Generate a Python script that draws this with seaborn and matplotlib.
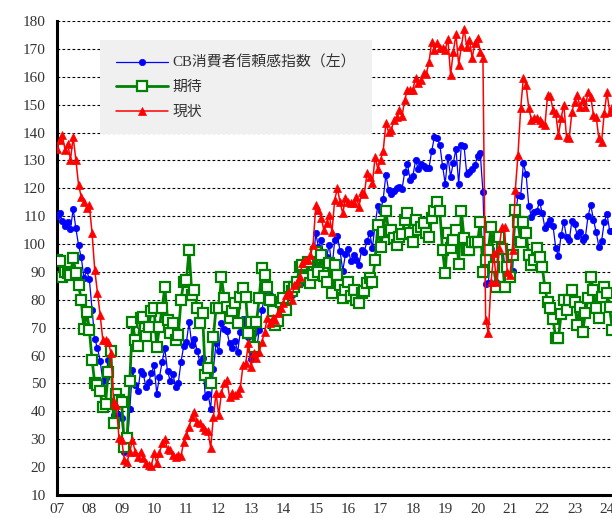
import numpy as np
import pandas as pd
import matplotlib
matplotlib.use("Agg")
import matplotlib.pyplot as plt
import seaborn as sns

# ---------------- data (monthly, Jan 2007 .. Mar 2024) ----------------
start_year = 2007
year_ticks = list(range(2007, 2025))
year_labels = [f"{y % 100:02d}" for y in year_ticks]
y_ticks = list(range(10, 181, 10))

label_cb = "CB消費者信頼感指数（左）"
label_exp = "期待"
label_pres = "現状"

cb_index = [
    110.2, 111.2, 108.2, 106.3, 108.0, 105.3, 112.6, 105.6, 99.5, 95.2, 87.8, 90.6,   # 2007
    87.3, 76.4, 65.9, 62.8, 58.1, 51.0, 51.9, 58.5, 61.4, 38.8, 44.9, 38.6,           # 2008
    37.7, 25.3, 26.9, 40.8, 54.8, 49.3, 47.4, 54.5, 53.4, 48.7, 50.6, 53.6,           # 2009
    56.5, 46.4, 52.3, 57.7, 62.7, 54.3, 51.0, 53.5, 48.6, 50.2, 57.8, 63.4,           # 2010
    64.8, 72.0, 63.8, 66.0, 61.7, 57.6, 59.2, 45.2, 46.4, 40.9, 55.2, 64.5,           # 2011
    61.5, 71.6, 69.5, 68.7, 64.4, 62.7, 65.4, 61.3, 68.4, 73.1, 71.5, 66.7,           # 2012
    58.6, 68.0, 61.9, 69.0, 76.2, 81.4, 80.3, 81.8, 80.2, 72.4, 72.0, 77.5,           # 2013
    80.7, 78.3, 83.9, 81.7, 83.0, 86.4, 90.9, 92.4, 86.0, 94.5, 88.7, 93.1,           # 2014
    103.8, 98.8, 101.4, 95.2, 95.4, 99.8, 91.0, 101.3, 103.0, 97.6, 90.4, 96.3,       # 2015
    98.1, 94.0, 96.1, 94.2, 92.6, 98.0, 97.3, 101.1, 104.1, 98.6, 107.1, 113.7,       # 2016
    111.8, 116.1, 124.9, 119.4, 117.9, 118.9, 120.0, 120.4, 119.8, 125.9, 128.6, 123.1,  # 2017
    124.3, 130.0, 127.0, 128.7, 128.0, 127.1, 127.4, 133.4, 138.4, 137.9, 135.7, 128.1,  # 2018
    121.7, 131.4, 124.2, 129.2, 134.1, 121.5, 135.7, 135.1, 125.1, 125.9, 126.8, 128.2,  # 2019
    131.6, 132.6, 118.8, 85.7, 85.9, 98.3, 91.7, 86.3, 101.8, 101.4, 92.9, 88.6,      # 2020
    89.3, 90.4, 109.7, 117.5, 117.2, 128.9, 125.1, 113.8, 109.8, 111.6, 111.9, 115.2, # 2021
    111.1, 105.7, 107.2, 108.6, 106.4, 98.7, 95.7, 103.2, 108.0, 102.5, 101.4, 108.3, # 2022
    107.1, 102.9, 104.2, 101.3, 102.5, 110.1, 114.0, 108.7, 104.3, 99.1, 101.0, 108.0, # 2023
    110.9, 104.8, 104.7,                                                               # 2024
]

expectations = [
    94.3, 93.8, 88.2, 90.0, 89.6, 88.9, 95.0, 89.6, 85.3, 80.0, 69.4, 75.8,           # 2007
    69.2, 58.4, 50.2, 49.5, 47.2, 41.5, 42.8, 54.1, 61.6, 35.8, 46.1, 44.2,           # 2008
    43.2, 27.3, 30.3, 51.0, 72.0, 65.6, 63.4, 73.6, 74.0, 67.1, 70.3, 76.1,           # 2009
    77.0, 63.0, 70.3, 77.0, 84.6, 72.8, 68.0, 71.7, 65.6, 67.4, 80.0, 86.4,           # 2010
    87.0, 97.9, 81.7, 83.5, 77.0, 71.7, 75.3, 53.0, 55.5, 50.2, 66.7, 77.0,           # 2011
    77.0, 88.2, 80.7, 77.4, 73.5, 76.0, 78.9, 71.7, 81.0, 84.2, 81.0, 68.1,           # 2012
    72.0, 63.0, 72.0, 80.7, 91.4, 88.9, 84.6, 80.0, 76.0, 71.0, 72.5, 79.2,           # 2013
    80.7, 76.4, 84.6, 83.0, 84.6, 86.4, 91.8, 92.5, 87.8, 93.6, 86.0, 89.0,           # 2014
    97.2, 90.0, 96.1, 88.5, 86.4, 93.2, 82.5, 92.5, 88.9, 85.3, 80.7, 83.5,           # 2015
    86.3, 81.2, 83.5, 80.0, 78.9, 82.5, 83.0, 86.0, 88.0, 86.4, 94.3, 106.8,          # 2016
    99.0, 104.4, 112.0, 104.3, 105.0, 102.0, 99.7, 102.5, 103.5, 108.6, 111.0, 104.0, # 2017
    100.7, 108.6, 105.0, 106.0, 107.6, 104.0, 102.5, 109.3, 112.0, 115.0, 112.0, 97.9, # 2018
    89.6, 104.0, 98.6, 101.5, 105.0, 93.0, 112.0, 102.0, 97.9, 98.0, 100.7, 100.7,    # 2019
    100.7, 108.0, 90.0, 94.3, 97.9, 106.0, 91.8, 84.6, 102.5, 98.4, 84.6, 91.8,       # 2020
    88.2, 96.0, 112.2, 108.0, 100.7, 108.0, 104.0, 96.0, 92.5, 94.3, 98.6, 95.4,      # 2021
    91.8, 84.2, 79.2, 77.0, 73.0, 66.3, 66.3, 75.0, 80.0, 76.4, 80.0, 83.5,           # 2022
    79.2, 71.0, 77.4, 68.5, 75.3, 80.7, 88.2, 83.5, 77.0, 73.5, 81.0, 84.6,           # 2023
    82.5, 77.4, 69.0,                                                                  # 2024
]

present = [
    134.0, 137.3, 139.0, 133.7, 136.0, 130.2, 138.4, 130.2, 121.2, 117.0, 115.0, 113.0, # 2007
    114.0, 104.0, 90.7, 82.5, 74.6, 65.6, 65.6, 64.9, 61.0, 43.4, 42.3, 30.4,         # 2008
    29.7, 22.6, 21.9, 25.5, 29.7, 25.5, 23.8, 25.5, 23.3, 21.5, 20.8, 20.5,           # 2009
    25.0, 21.5, 25.0, 28.6, 30.0, 26.5, 26.1, 24.3, 23.6, 24.3, 24.0, 29.0,           # 2010
    31.5, 34.4, 38.0, 39.8, 36.2, 35.8, 34.4, 33.3, 33.0, 26.9, 38.0, 46.6,           # 2011
    38.7, 46.6, 50.2, 51.2, 45.2, 46.6, 45.9, 46.6, 48.4, 56.6, 57.3, 64.5,           # 2012
    56.0, 61.0, 59.0, 61.3, 64.9, 68.5, 73.5, 71.7, 73.5, 72.8, 75.3, 77.1,           # 2013
    79.0, 81.7, 82.8, 80.0, 85.3, 86.4, 88.2, 93.2, 94.3, 94.3, 96.0, 99.7,           # 2014
    114.0, 112.2, 109.4, 105.0, 107.6, 110.4, 104.3, 115.8, 120.0, 115.0, 111.0, 116.5, # 2015
    115.0, 114.7, 114.7, 117.0, 113.3, 118.7, 118.0, 125.5, 124.0, 122.0, 131.2, 127.0, # 2016
    130.2, 133.4, 143.4, 140.2, 140.9, 144.5, 145.6, 148.0, 146.0, 151.7, 155.3, 155.3, # 2017
    155.3, 159.6, 157.8, 158.9, 161.4, 161.0, 165.3, 172.5, 169.6, 172.1, 170.3, 170.3, # 2018
    169.6, 173.5, 160.6, 169.0, 175.2, 164.3, 170.9, 177.2, 170.7, 173.2, 166.7, 172.1, # 2019
    173.9, 168.9, 166.7, 72.8, 68.1, 86.4, 96.8, 86.4, 98.6, 106.0, 106.0, 90.0,      # 2020
    88.9, 97.9, 119.4, 132.0, 148.8, 159.6, 157.0, 148.8, 144.5, 145.2, 145.2, 144.5, # 2021
    143.4, 142.7, 153.5, 153.0, 148.1, 147.0, 139.0, 145.2, 150.0, 138.4, 138.0, 147.4, # 2022
    151.0, 153.5, 149.2, 151.7, 149.2, 154.5, 152.8, 146.3, 145.6, 138.0, 136.6, 147.0, # 2023
    154.5, 147.4, 149.0,                                                               # 2024
]

n = len(cb_index)
dates = [start_year + i / 12.0 for i in range(n)]
df = pd.DataFrame({"date": dates, "cb": cb_index,
                   "exp": expectations[:n], "pres": present[:n]})

# ---------------- figure ----------------
sns.set_style("white")
plt.rcParams["font.family"] = ["Liberation Serif", "Noto Sans CJK JP", "DejaVu Sans"]

fig = plt.figure(figsize=(6.12, 5.18), dpi=100)
ax = fig.add_axes([57 / 612, 23 / 518, 1 - 57 / 612, (495 - 21) / 518])

sns.lineplot(data=df, x="date", y="cb", ax=ax, color="#0000FF", linewidth=0.9,
             marker="o", markersize=4.6, markerfacecolor="#0000FF",
             markeredgecolor="#0000FF", markeredgewidth=0.5, label=label_cb,
             zorder=3)
sns.lineplot(data=df, x="date", y="exp", ax=ax, color="#008000", linewidth=2.0,
             marker="s", markersize=6.8, markerfacecolor="white",
             markeredgecolor="#008000", markeredgewidth=1.6, label=label_exp,
             zorder=4)
sns.lineplot(data=df, x="date", y="pres", ax=ax, color="#FF0000", linewidth=1.1,
             marker="^", markersize=5.2, markerfacecolor="#FF0000",
             markeredgecolor="#FF0000", markeredgewidth=0.5, label=label_pres,
             zorder=5)

ax.set_xlim(2007, 2007 + (612 - 57) / 32.35)
ax.set_ylim(10, 180)
ax.set_xticks(year_ticks)
ax.set_xticklabels(year_labels)
ax.set_yticks(y_ticks)
ax.set_xlabel("")
ax.set_ylabel("")

ax.yaxis.grid(True, linestyle=(0, (2.5, 2)), color="black", linewidth=0.8)
ax.xaxis.grid(False)
ax.set_axisbelow(True)

for side in ["top", "right"]:
    ax.spines[side].set_visible(False)
for side in ["left", "bottom"]:
    ax.spines[side].set_linewidth(2.2)
    ax.spines[side].set_color("black")

ax.tick_params(axis="both", direction="in", length=3.5, width=1.3,
               colors="black", labelsize=11, labelcolor="#333333")
ax.tick_params(axis="y", pad=8)
ax.tick_params(axis="x", pad=6)

leg = ax.legend(loc="upper left", bbox_to_anchor=((100 - 57) / 555, 1 - (40 - 21) / 474),
                frameon=True, fancybox=False, framealpha=1.0,
                facecolor="#F0F0F0", edgecolor="none", fontsize=10.7,
                handlelength=3.5, handletextpad=0.35, labelspacing=0.75,
                borderpad=1.05, borderaxespad=0.0)
for t in leg.get_texts():
    t.set_color("#333333")

fig.savefig("out.png", dpi=100)
